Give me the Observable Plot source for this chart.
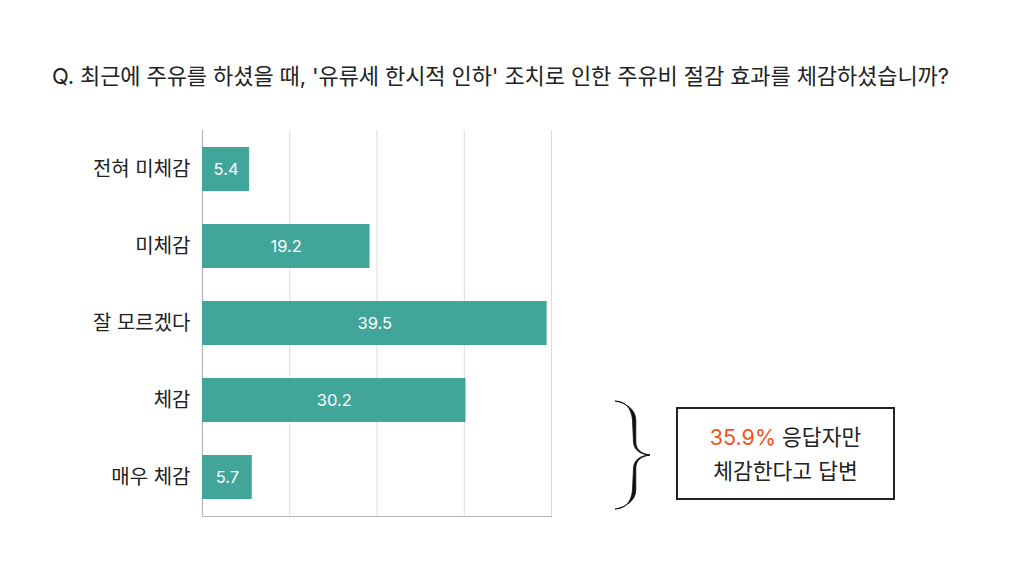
<!DOCTYPE html>
<html>
<head>
<meta charset="utf-8">
<script src="https://cdn.jsdelivr.net/npm/d3@7"></script>
<script src="https://cdn.jsdelivr.net/npm/@observablehq/plot@0.6"></script>
<style>
  html, body { margin: 0; padding: 0; background: #fff; }
  #wrap { position: relative; width: 1024px; height: 576px; overflow: hidden; font-family: Inter, "Noto Sans CJK KR", "Noto Sans", sans-serif; color: #222; }
  #title { position: absolute; left: 52px; top: 58px; font-size: 22px; white-space: nowrap; letter-spacing: -0.1px; }
  #chart { position: absolute; left: 0; top: 110px; }
  #box { position: absolute; left: 676px; top: 407px; width: 215px; height: 89px; border: 2px solid #222; font-size: 21.5px; text-align: center; line-height: 34px; box-sizing: content-box; display: flex; flex-direction: column; justify-content: center; }
  #box .hl { color: #f4511e; }
  #brace { position: absolute; left: 600px; top: 395px; }
</style>
</head>
<body>
<div id="wrap">
  <div id="title">Q. 최근에 주유를 하셨을 때, '유류세 한시적 인하' 조치로 인한 주유비 절감 효과를 체감하셨습니까?</div>
  <div id="chart"></div>
  <svg id="brace" width="70" height="120" viewBox="600 395 70 120">
    <path d="M615,401 C625,401 631.5,408 632.5,420 L633.5,442 C634,450 640,454.5 650,455 C640,455.5 634,460 633.5,468 L632.5,490 C631.5,502 625,509 615,509 C626,507 635.5,501 635.8,490 L635.8,468 C636,461 640,456.5 650,455 C640,453.5 636,449 635.8,442 L635.8,420 C635.5,409 626,403 615,401 Z" fill="#111" stroke="#111" stroke-width="0.8" stroke-linejoin="round"/>
  </svg>
  <div id="box"><div><span class="hl">35.9%</span> 응답자만</div><div>체감한다고 답변</div></div>
</div>
<script>
const categories = ["전혀 미체감", "미체감", "잘 모르겠다", "체감", "매우 체감"];
const values = [5.4, 19.2, 39.5, 30.2, 5.7];
const gridTicks = [10, 20, 30, 40];

const data = categories.map((c, i) => ({category: c, value: values[i]}));

const chart = Plot.plot({
  width: 620,
  height: 426,
  marginLeft: 202,
  marginRight: 69,
  marginTop: 20,
  marginBottom: 20,
  style: {fontFamily: "Inter, 'Noto Sans CJK KR', sans-serif", background: "transparent"},
  x: {domain: [0, 40], axis: null},
  y: {domain: categories, paddingInner: 0.43, paddingOuter: 0.22, label: null},
  marks: [
    Plot.ruleX(gridTicks, {stroke: "#dcdcdc", strokeWidth: 1, strokeOpacity: 1}),
    Plot.ruleX([0], {stroke: "#b5b5b5", strokeWidth: 1.2, strokeOpacity: 1}),
    Plot.frame({anchor: "bottom", stroke: "#b5b5b5", strokeWidth: 1.2}),
    Plot.barX(data, {x: "value", y: "category", fill: "#41a599"}),
    Plot.text(data, {x: d => d.value / 2, y: "category", text: d => d.value.toFixed(1), fill: "#fff", fontSize: 16.5}),
    Plot.axisY({tickSize: 0, tickPadding: 12, fontSize: 20, label: null, fill: "#222"})
  ]
});
document.getElementById("chart").appendChild(chart);
</script>
</body>
</html>
